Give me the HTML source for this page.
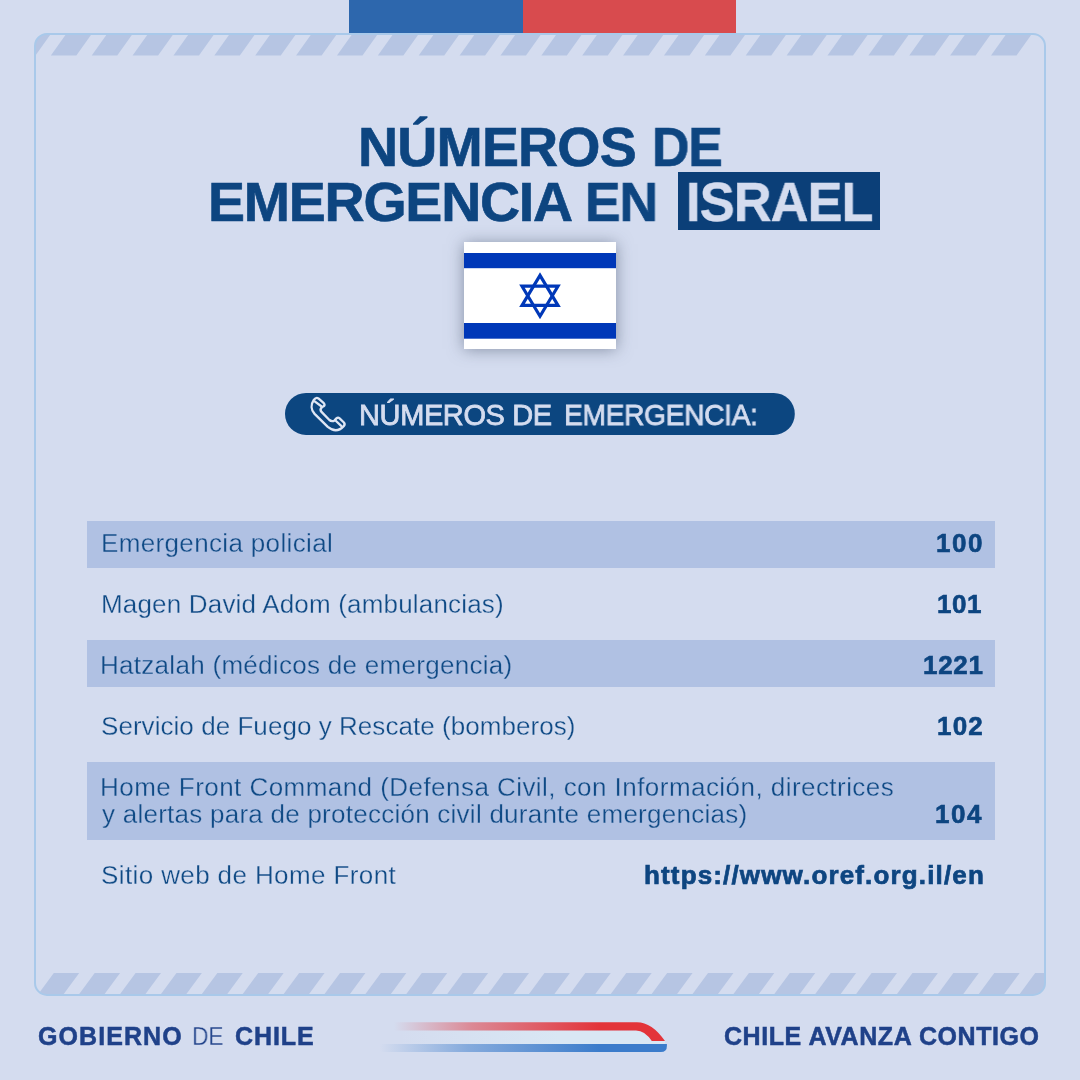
<!DOCTYPE html>
<html><head><meta charset="utf-8"><title>Números de emergencia en Israel</title>
<style>
html,body{margin:0;padding:0}
body{width:1080px;height:1080px;background:#d4dcef;position:relative;overflow:hidden;font-family:"Liberation Sans",sans-serif;}
.abs{position:absolute}
.t{position:absolute;white-space:nowrap;line-height:1;}
.t,.lbl,.num{will-change:transform}
.band{position:absolute;left:87px;width:908px;background:#b0c1e3}
.lbl{position:absolute;left:102px;white-space:nowrap;line-height:1;font-size:26px;color:#0f4a85;-webkit-text-stroke:0.32px #d4dcef}
.onband{-webkit-text-stroke:0.32px #b0c1e3}
.num{position:absolute;right:97.5px;white-space:nowrap;line-height:1;font-size:26px;font-weight:bold;color:#0d4580;text-align:right;-webkit-text-stroke:0.6px #0d4580}
</style></head><body>
<svg class="abs" style="left:0;top:0" width="1080" height="1080" viewBox="0 0 1080 1080">
<defs>
<clipPath id="fc"><rect x="35" y="34" width="1010" height="960.9" rx="12" ry="12"/></clipPath>
<linearGradient id="gr" x1="394" y1="0" x2="600" y2="0" gradientUnits="userSpaceOnUse"><stop offset="0" stop-color="#e3343a" stop-opacity="0"/><stop offset=".38" stop-color="#e3343a" stop-opacity=".5"/><stop offset="1" stop-color="#e3343a"/></linearGradient>
<linearGradient id="gb" x1="380" y1="0" x2="600" y2="0" gradientUnits="userSpaceOnUse"><stop offset="0" stop-color="#3b7ccb" stop-opacity="0"/><stop offset=".4" stop-color="#3b7ccb" stop-opacity=".52"/><stop offset="1" stop-color="#3b7ccb"/></linearGradient>
<linearGradient id="gw" x1="400" y1="0" x2="560" y2="0" gradientUnits="userSpaceOnUse"><stop offset="0" stop-color="#d9e7f4" stop-opacity="0"/><stop offset="1" stop-color="#d9e7f4"/></linearGradient>
</defs>
<g clip-path="url(#fc)" fill="#b6c5e3">
<polygon points="9.97,55.5 35.47,55.5 51.50,33.0 26.00,33.0"/>
<polygon points="50.85,55.5 76.35,55.5 92.37,33.0 66.87,33.0"/>
<polygon points="91.73,55.5 117.23,55.5 133.25,33.0 107.75,33.0"/>
<polygon points="132.60,55.5 158.10,55.5 174.13,33.0 148.63,33.0"/>
<polygon points="173.48,55.5 198.98,55.5 215.00,33.0 189.50,33.0"/>
<polygon points="214.35,55.5 239.85,55.5 255.88,33.0 230.38,33.0"/>
<polygon points="255.23,55.5 280.73,55.5 296.75,33.0 271.25,33.0"/>
<polygon points="296.11,55.5 321.61,55.5 337.63,33.0 312.13,33.0"/>
<polygon points="336.98,55.5 362.48,55.5 378.51,33.0 353.01,33.0"/>
<polygon points="377.86,55.5 403.36,55.5 419.38,33.0 393.88,33.0"/>
<polygon points="418.73,55.5 444.23,55.5 460.26,33.0 434.76,33.0"/>
<polygon points="459.61,55.5 485.11,55.5 501.13,33.0 475.63,33.0"/>
<polygon points="500.49,55.5 525.99,55.5 542.01,33.0 516.51,33.0"/>
<polygon points="541.36,55.5 566.86,55.5 582.89,33.0 557.39,33.0"/>
<polygon points="582.24,55.5 607.74,55.5 623.76,33.0 598.26,33.0"/>
<polygon points="623.11,55.5 648.61,55.5 664.64,33.0 639.14,33.0"/>
<polygon points="663.99,55.5 689.49,55.5 705.51,33.0 680.01,33.0"/>
<polygon points="704.87,55.5 730.37,55.5 746.39,33.0 720.89,33.0"/>
<polygon points="745.74,55.5 771.24,55.5 787.27,33.0 761.77,33.0"/>
<polygon points="786.62,55.5 812.12,55.5 828.14,33.0 802.64,33.0"/>
<polygon points="827.49,55.5 852.99,55.5 869.02,33.0 843.52,33.0"/>
<polygon points="868.37,55.5 893.87,55.5 909.89,33.0 884.39,33.0"/>
<polygon points="909.25,55.5 934.75,55.5 950.77,33.0 925.27,33.0"/>
<polygon points="950.12,55.5 975.62,55.5 991.65,33.0 966.15,33.0"/>
<polygon points="991.00,55.5 1016.50,55.5 1032.52,33.0 1007.02,33.0"/>
<polygon points="53.80,973.0 79.20,973.0 62.26,996.0 36.86,996.0"/>
<polygon points="94.69,973.0 120.09,973.0 103.15,996.0 77.75,996.0"/>
<polygon points="135.58,973.0 160.98,973.0 144.04,996.0 118.64,996.0"/>
<polygon points="176.47,973.0 201.87,973.0 184.93,996.0 159.53,996.0"/>
<polygon points="217.36,973.0 242.76,973.0 225.82,996.0 200.42,996.0"/>
<polygon points="258.25,973.0 283.65,973.0 266.71,996.0 241.31,996.0"/>
<polygon points="299.14,973.0 324.54,973.0 307.60,996.0 282.20,996.0"/>
<polygon points="340.03,973.0 365.43,973.0 348.49,996.0 323.09,996.0"/>
<polygon points="380.92,973.0 406.32,973.0 389.38,996.0 363.98,996.0"/>
<polygon points="421.81,973.0 447.21,973.0 430.27,996.0 404.87,996.0"/>
<polygon points="462.70,973.0 488.10,973.0 471.16,996.0 445.76,996.0"/>
<polygon points="503.59,973.0 528.99,973.0 512.05,996.0 486.65,996.0"/>
<polygon points="544.48,973.0 569.88,973.0 552.94,996.0 527.54,996.0"/>
<polygon points="585.37,973.0 610.77,973.0 593.83,996.0 568.43,996.0"/>
<polygon points="626.26,973.0 651.66,973.0 634.72,996.0 609.32,996.0"/>
<polygon points="667.15,973.0 692.55,973.0 675.61,996.0 650.21,996.0"/>
<polygon points="708.04,973.0 733.44,973.0 716.50,996.0 691.10,996.0"/>
<polygon points="748.93,973.0 774.33,973.0 757.39,996.0 731.99,996.0"/>
<polygon points="789.82,973.0 815.22,973.0 798.28,996.0 772.88,996.0"/>
<polygon points="830.71,973.0 856.11,973.0 839.17,996.0 813.77,996.0"/>
<polygon points="871.60,973.0 897.00,973.0 880.06,996.0 854.66,996.0"/>
<polygon points="912.49,973.0 937.89,973.0 920.95,996.0 895.55,996.0"/>
<polygon points="953.38,973.0 978.78,973.0 961.84,996.0 936.44,996.0"/>
<polygon points="994.27,973.0 1019.67,973.0 1002.73,996.0 977.33,996.0"/>
<polygon points="1035.16,973.0 1060.56,973.0 1043.62,996.0 1018.22,996.0"/>
</g>
<rect x="35" y="34" width="1010" height="960.9" rx="12" ry="12" fill="none" stroke="#a9c9ea" stroke-width="2"/>
<rect x="349" y="0" width="174" height="33" fill="#2d67ad"/>
<rect x="523" y="0" width="213" height="33" fill="#d84b4e"/>
<!-- pill -->
<rect x="285" y="392.9" width="509.8" height="42" rx="21" fill="#0c4680"/>
<!-- phone icon -->
<g fill="none" stroke="#dfe6f4" stroke-width="2.35" stroke-linejoin="round" stroke-linecap="round">
<path d="M313.8 400.0 Q316.0 396.8 318.4 398.4 L323.8 403.2 Q325.4 404.9 323.6 406.3 L321.8 407.3 Q319.5 409.6 321.5 411.9 L329.4 420.0 Q331.8 422.0 334.6 420.4 L336.4 418.4 Q338.0 416.9 339.6 418.3 L343.9 422.5 Q345.4 424.3 343.7 426.1 Q336.5 434 327.8 426.9 L314.6 413.9 C311.0 410.0 310.6 404.5 313.8 400.0 Z"/>
<path d="M315.0 401.6 L321.3 406.2"/>
<path d="M336.0 421.0 L341.2 425.9"/>
</g>
<!-- ribbon -->
<path d="M394 1030.4 L636 1030.4 Q645 1030.4 651.8 1041.1 L665 1041.1 L665 1044.5 L394 1044.5 Z" fill="url(#gw)"/>
<path d="M394 1022.2 L637 1022.2 Q652 1022.2 665 1041.1 L651.8 1041.1 Q645 1030.4 636 1030.4 L394 1030.4 Z" fill="url(#gr)"/>
<path d="M378 1044.1 L666.9 1044.1 L666.9 1046 Q666.9 1052 660.9 1052 L378 1052 Z" fill="url(#gb)"/>
</svg>

<!-- flag -->
<div class="abs" style="left:464px;top:242.3px;width:152px;height:106.6px;background:#fff;box-shadow:0 0.5px 15px rgba(70,82,106,.56)">
<svg width="152" height="107" viewBox="0 0 152 107" style="display:block;position:absolute;left:0;top:-0.3px">
<rect x="0" y="11" width="152" height="15.2" fill="#0038b8"/>
<rect x="0" y="81" width="152" height="15.7" fill="#0038b8"/>
<g fill="none" stroke="#0038b8" stroke-width="3.2" stroke-linejoin="miter">
<polygon points="76,33.4 94,63.4 58,63.4"/>
<polygon points="76,74.2 94,44.2 58,44.2"/>
</g>
</svg>
</div>

<!-- title -->
<div class="t" id="t1" style="left:357.8px;top:119.5px;font-size:55.5px;font-weight:bold;color:#0d4580;letter-spacing:-0.83px;-webkit-text-stroke:0.65px #0d4580">NÚMEROS</div>
<div class="t" id="t1b" style="left:651.7px;top:119.5px;font-size:55.5px;font-weight:bold;color:#0d4580;letter-spacing:-1.28px;-webkit-text-stroke:0.65px #0d4580;transform:scaleX(.935);transform-origin:0 0">DE</div>
<div class="t" id="t2" style="left:207.8px;top:174.7px;font-size:55.5px;font-weight:bold;color:#0d4580;letter-spacing:-1.23px;-webkit-text-stroke:0.65px #0d4580">EMERGENCIA</div>
<div class="t" id="t2b" style="left:584.6px;top:174.7px;font-size:55.5px;font-weight:bold;color:#0d4580;letter-spacing:-1.36px;-webkit-text-stroke:0.65px #0d4580;transform:scaleX(.964);transform-origin:0 0">EN</div>
<div class="abs" style="left:677.7px;top:171.9px;width:202.2px;height:57.9px;background:#0b3f78"></div>
<div class="t" id="t3" style="left:686px;top:174.7px;font-size:55.5px;font-weight:bold;color:#d4dcef;letter-spacing:-1px;-webkit-text-stroke:0.45px #d4dcef;transform:scaleX(.945);transform-origin:0 0">ISRAEL</div>

<div class="t" id="t4" style="left:359.2px;top:400.6px;font-size:29px;font-weight:normal;color:#d4dcef;letter-spacing:-0.38px;-webkit-text-stroke:0.8px #d4dcef">NÚMEROS DE</div>
<div class="t" id="t4b" style="left:563.5px;top:400.6px;font-size:29px;font-weight:normal;color:#d4dcef;letter-spacing:-0.38px;-webkit-text-stroke:0.8px #d4dcef;transform:scaleX(.973);transform-origin:0 0">EMERGENCIA:</div>

<!-- rows -->
<div class="band" style="top:521.25px;height:46.75px"></div>
<div class="band" style="top:640px;height:47px"></div>
<div class="band" style="top:761.75px;height:77.75px"></div>

<div class="lbl onband" id="l1" style="top:530px;left:100.6px;letter-spacing:0.35px">Emergencia policial</div>
<div class="lbl" id="l2" style="top:591px;left:101px;letter-spacing:0.18px">Magen David Adom (ambulancias)</div>
<div class="lbl onband" id="l3" style="top:652px;left:100px;letter-spacing:0.29px">Hatzalah (médicos de emergencia)</div>
<div class="lbl" id="l4" style="top:713px;left:101px;letter-spacing:0.05px">Servicio de Fuego y Rescate (bomberos)</div>
<div class="lbl onband" id="l5" style="top:774px;left:100px;letter-spacing:0.45px">Home Front Command (Defensa Civil, con Información, directrices</div>
<div class="lbl onband" id="l6" style="top:801px;left:102px;letter-spacing:0.25px">y alertas para de protección civil durante emergencias)</div>
<div class="lbl" id="l7" style="top:862px;left:101px;letter-spacing:0.39px">Sitio web de Home Front</div>

<div class="num" id="n1" style="top:530px;letter-spacing:1.6px;right:95.4px">100</div>
<div class="num" id="n2" style="top:591px;letter-spacing:0.6px;right:97.4px">101</div>
<div class="num" id="n3" style="top:652px;letter-spacing:0.7px;right:96.1px">1221</div>
<div class="num" id="n4" style="top:713px;letter-spacing:1.2px;right:96.3px">102</div>
<div class="num" id="n5" style="top:801px;letter-spacing:1.6px;right:96.4px">104</div>
<div class="num" id="n6" style="top:862.2px;letter-spacing:1.15px;right:95.5px;-webkit-text-stroke:0.7px #0d4580">https://www.oref.org.il/en</div>

<!-- footer -->
<div class="t" id="f1" style="left:38.4px;top:1024px;font-size:25px;font-weight:bold;color:#1f4189;letter-spacing:1.08px;-webkit-text-stroke:0.5px #1f4189">GOBIERNO</div>
<div class="t" id="f2" style="left:192px;top:1024px;font-size:25px;color:#1f4189;transform:scaleX(.91);transform-origin:0 0;-webkit-text-stroke:0.3px #d4dcef">DE</div>
<div class="t" id="f3" style="left:235.3px;top:1024px;font-size:25px;font-weight:bold;color:#1f4189;letter-spacing:0.9px;-webkit-text-stroke:0.5px #1f4189">CHILE</div>
<div class="t" id="f4" style="left:723.5px;top:1024px;font-size:25px;font-weight:bold;color:#1f4189;letter-spacing:0.57px;-webkit-text-stroke:0.5px #1f4189">CHILE AVANZA CONTIGO</div>
</body></html>
